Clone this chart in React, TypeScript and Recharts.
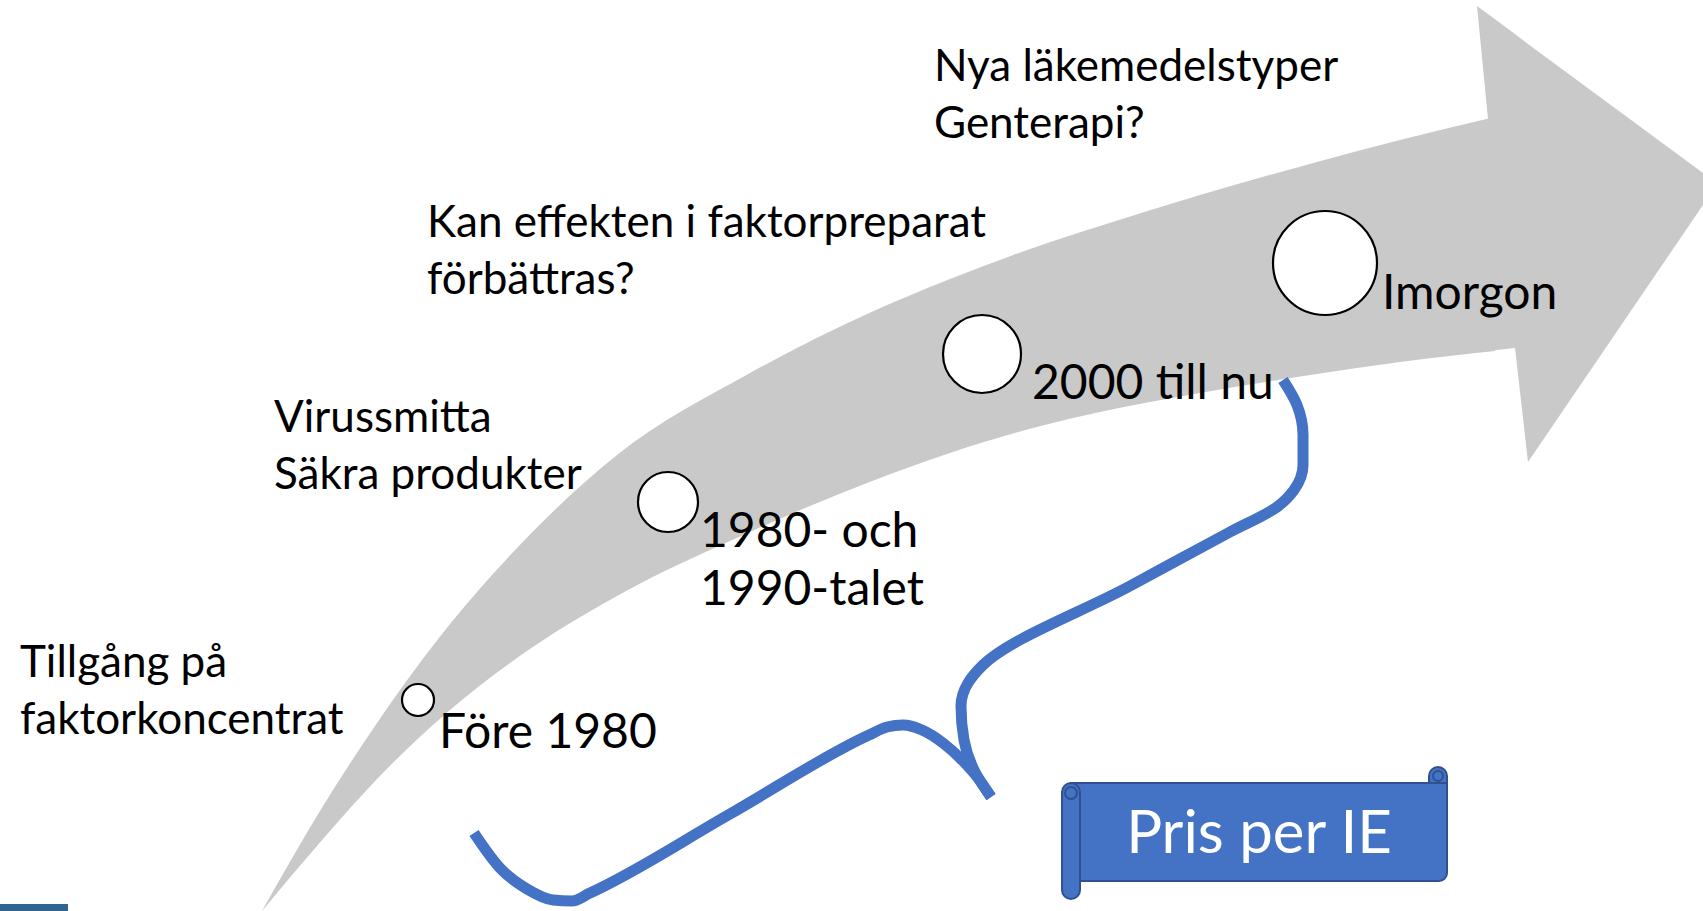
import React from 'react';
import {
  ComposedChart,
  XAxis,
  YAxis,
  Area,
  Line,
  Scatter,
  ReferenceArea,
  ReferenceDot,
} from 'recharts';

const W = 1703;
const H = 911;
const FONT = 'Lato, "Open Sans", sans-serif';

// gray arrow body, read along its length (upper and lower edge)
const arrowX = [262, 323, 377, 450, 517, 617, 750, 867, 950, 1033, 1100, 1200, 1317, 1400, 1495];
const arrowUpper = [911, 806, 723, 624, 548, 455, 373, 314, 279, 248, 226, 195, 162, 140, 117];
const arrowLower = [911, 839, 779, 710, 658, 596, 532, 483, 453, 428, 412, 393, 374, 362, 351];

// arrow head (tip runs off the right edge)
const headX = [1477, 1488, 1488, 1515, 1528, 1703];
const headUpper = [6, 14, 14, 34, 44, 173];
const headLower = [6, 119, 351, 348, 462, 205];

// milestones on the arrow
const milestoneX = [418, 668, 982, 1325];
const milestoneY = [700, 502, 354, 263];
const milestoneR = [16, 30, 39, 52];
const milestoneLabels = [['Före 1980'], ['1980- och', '1990-talet'], ['2000 till nu'], ['Imorgon']];
const milestoneLabelX = [439, 700, 1032, 1382];
const milestoneLabelY = [748, 547, 399, 309];

// notes above the arrow
const noteLabels = [
  ['Tillgång på', 'faktorkoncentrat'],
  ['Virussmitta', 'Säkra produkter'],
  ['Kan effekten i faktorpreparat', 'förbättras?'],
  ['Nya läkemedelstyper', 'Genterapi?'],
];
const noteX = [20, 274, 427, 934];
const noteY = [677, 432, 237, 81];

// curly brace, left half and right half meeting at the tip
const braceLeftX = [474, 500, 527, 553, 572, 590, 730, 869, 887, 903, 922, 943, 963, 978, 991];
const braceLeftY = [833, 868, 889, 900, 901, 893, 814, 735, 727, 725, 730, 743, 761, 778, 797];
const braceRightX = [1283, 1297, 1303, 1303, 1294, 1277, 1230, 1130, 983, 968, 961, 964, 975, 991];
const braceRightY = [380, 405, 435, 465, 490, 507, 532, 586, 665, 683, 706, 740, 772, 797];

const bannerText = 'Pris per IE';

const bodyData = arrowX.map((x, i) => ({ x, band: [arrowLower[i], arrowUpper[i]] }));
const headData = headX.map((x, i) => ({ x, band: [headLower[i], headUpper[i]] }));
const milestoneData = milestoneX.map((x, i) => ({ x, y: milestoneY[i], r: milestoneR[i] }));
const milestoneLabelData = milestoneLabels.map((lines, i) => ({
  x: milestoneLabelX[i],
  y: milestoneLabelY[i],
  lines,
}));
const noteData = noteLabels.map((lines, i) => ({ x: noteX[i], y: noteY[i], lines }));
const braceLeft = braceLeftX.map((x, i) => ({ x, y: braceLeftY[i] }));
const braceRight = braceRightX.map((x, i) => ({ x, y: braceRightY[i] }));

const MilestoneDot = (props: any) => {
  const { cx, cy, payload } = props;
  return <circle cx={cx} cy={cy} r={payload.r} fill="#fff" stroke="#000" strokeWidth={2.2} />;
};

const makeLabel = (fontSize: number, lineGap: number) => (props: any) => {
  const { cx, cy, payload } = props;
  return (
    <text x={cx} y={cy} fontSize={fontSize} fontFamily={FONT} fill="#000">
      {payload.lines.map((t: string, i: number) => (
        <tspan key={i} x={cx} y={cy + i * lineGap}>
          {t}
        </tspan>
      ))}
    </text>
  );
};

const NoteLabel = makeLabel(44, 57);
const MilestoneLabel = makeLabel(48, 58);

export default function App() {
  return (
    <div style={{ width: W, height: H, background: '#fff' }}>
      <style>{'body{margin:0}'}</style>
      <ComposedChart width={W} height={H} margin={{ top: 0, right: 0, bottom: 0, left: 0 }}>
        <XAxis type="number" dataKey="x" domain={[0, W]} hide allowDataOverflow />
        <YAxis type="number" dataKey="y" domain={[0, H]} reversed hide allowDataOverflow />

        <Area
          data={bodyData}
          dataKey="band"
          type="monotone"
          fill="#C9C9C9"
          fillOpacity={1}
          stroke="none"
          isAnimationActive={false}
        />
        <Area
          data={headData}
          dataKey="band"
          type="linear"
          fill="#C9C9C9"
          fillOpacity={1}
          stroke="none"
          isAnimationActive={false}
        />

        <Line
          data={braceLeft}
          dataKey="y"
          type="monotoneX"
          stroke="#4472C4"
          strokeWidth={11}
          dot={false}
          activeDot={false}
          isAnimationActive={false}
        />
        <Line
          data={braceRight}
          dataKey="y"
          type="monotoneY"
          stroke="#4472C4"
          strokeWidth={11}
          dot={false}
          activeDot={false}
          isAnimationActive={false}
        />

        <ReferenceArea x1={0} x2={68} y1={904} y2={911} fill="#2E6593" fillOpacity={1} stroke="none" />

        {/* scroll banner */}
        <ReferenceArea
          x1={1429}
          x2={1447}
          y1={767}
          y2={792}
          radius={9}
          fill="#4472C4"
          fillOpacity={1}
          stroke="#2F528F"
          strokeWidth={2}
        />
        <ReferenceArea
          x1={1071}
          x2={1447}
          y1={783}
          y2={881}
          radius={[0, 0, 8, 0]}
          fill="#4472C4"
          fillOpacity={1}
          stroke="#2F528F"
          strokeWidth={2}
          label={{ value: bannerText, position: 'center', fill: '#fff', fontSize: 60, fontFamily: FONT }}
        />
        <ReferenceArea
          x1={1062}
          x2={1080}
          y1={783}
          y2={899}
          radius={9}
          fill="#4472C4"
          fillOpacity={1}
          stroke="#2F528F"
          strokeWidth={2}
        />
        <ReferenceDot x={1438} y={776} r={5} fill="#4472C4" stroke="#2F528F" strokeWidth={2} />
        <ReferenceDot x={1071} y={793} r={6} fill="#4472C4" stroke="#2F528F" strokeWidth={2} />

        <Scatter data={milestoneData} shape={MilestoneDot} isAnimationActive={false} />
        <Scatter data={milestoneLabelData} shape={MilestoneLabel} isAnimationActive={false} />
        <Scatter data={noteData} shape={NoteLabel} isAnimationActive={false} />
      </ComposedChart>
    </div>
  );
}
